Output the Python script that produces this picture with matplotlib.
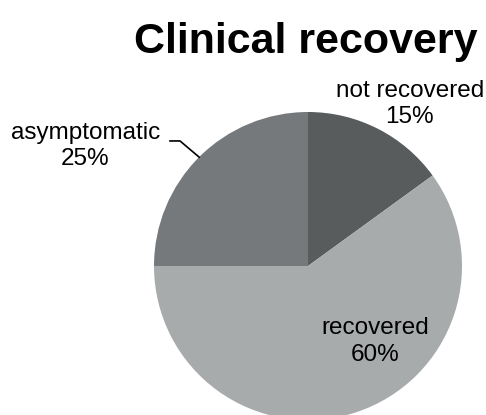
import numpy as np
import matplotlib.pyplot as plt

plt.rcParams['font.family'] = ['Liberation Sans', 'DejaVu Sans']

# outcome shares (%)
categories = ['not recovered', 'recovered', 'asymptomatic']
shares = [15, 60, 25]
colors = ['#595c5d', '#a8abac', '#76797b']

fig = plt.figure(figsize=(4.86, 4.15), dpi=100)
W, H = 486, 415
cx, cy, r = 308, 266, 154
ax = fig.add_axes([(cx - r) / W, (H - cy - r) / H, 2 * r / W, 2 * r / H])
ax.pie(shares, colors=colors, startangle=90, counterclock=False, radius=1,
       wedgeprops=dict(linewidth=0))
ax.set_xlim(-1, 1)
ax.set_ylim(-1, 1)
ax.set_aspect('equal')
ax.axis('off')

fs = 17.5
ax.text(0.66, 1.05, f'{categories[0]}\n{shares[0]}%', ha='center', va='center',
        fontsize=fs, linespacing=1.22)
ax.text(0.435, -0.49, f'{categories[1]}\n{shares[1]}%', ha='center', va='center',
        fontsize=fs, linespacing=1.25)
ax.text(-1.445, 0.78, f'{categories[2]}\n{shares[2]}%', ha='center', va='center',
        fontsize=fs, linespacing=1.2)
# leader line for the asymptomatic label
ax.plot([-0.896, -0.831, -0.707], [0.812, 0.812, 0.707], color='black',
        linewidth=1.2, clip_on=False)

fig.text(306 / W, 1 - 42 / H, 'Clinical recovery', ha='center', va='center',
         fontsize=31, fontweight='bold')

fig.savefig('out.png', dpi=100)
